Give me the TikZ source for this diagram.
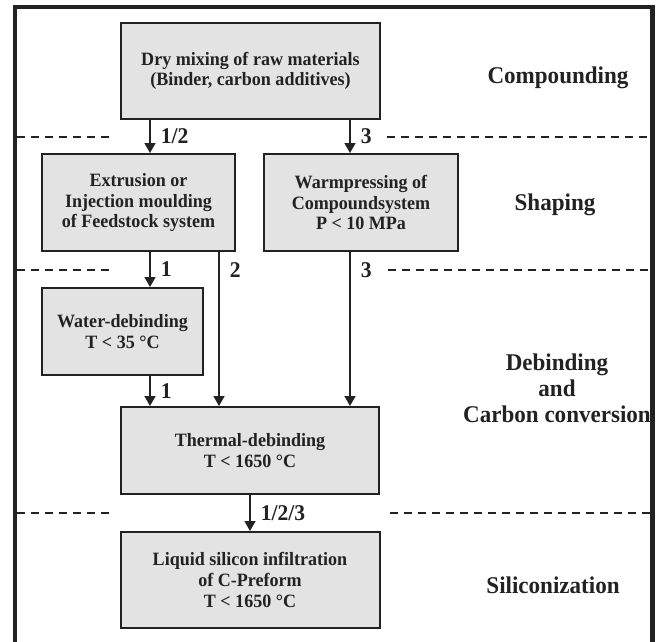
\documentclass[tikz,border=0pt]{standalone}
\usepackage{fontspec}
\setmainfont{Liberation Serif}[FakeStretch=0.96]
\usetikzlibrary{positioning,arrows.meta}
\definecolor{boxgray}{HTML}{E3E3E3}
\definecolor{inkgray}{HTML}{222222}
\tikzstyle{stage} = [draw=inkgray,line width=2pt,fill=boxgray,text=inkgray,align=center,inner sep=0pt,font=\fontsize{18.8}{20.7}\selectfont\bfseries]
\tikzstyle{arrow} = [line width=1.6pt,draw=inkgray,-{Triangle[width=11pt,length=10pt]}]
\tikzstyle{lab} = [right=8pt,inner sep=2pt,text=inkgray,font=\fontsize{22.5}{22.5}\selectfont\bfseries]
\tikzstyle{zonelabel} = [align=center,text=inkgray,font=\fontsize{24}{26}\selectfont\bfseries]
\tikzstyle{zoneline} = [line width=1.3pt,draw=inkgray,dash pattern=on 8pt off 6pt]

\begin{document}
\begin{tikzpicture}[x=1pt,y=-1pt]
  \useasboundingbox (0,0) rectangle (658,641);
  % outer frame, open at the bottom
  \draw[line width=4.5pt,draw=inkgray] (15,650) -- (15,7) -- (652.5,7) -- (652.5,650);

  % process steps
  \node[stage,minimum width=259pt,minimum height=96pt] (mix) at (250.5,71) {Dry mixing of raw materials\\(Binder, carbon additives)};
  \node[stage,minimum width=193pt,minimum height=97pt] (extr) at (138.5,202.5) {Extrusion or\\Injection moulding\\of Feedstock system};
  \node[stage,minimum width=194pt,minimum height=97pt,right=27pt of extr] (warm) {Warmpressing of\\Compoundsystem\\P < 10 MPa};
  \node[stage,minimum width=161pt,minimum height=87pt,below=35pt of extr.south west,anchor=north west] (water) {Water-debinding\\T < 35 °C};
  \node[stage,minimum width=258pt,minimum height=87pt] (therm) at (250,450.5) {Thermal-debinding\\T < 1650 °C};
  \node[stage,minimum width=259pt,minimum height=96pt,below=36pt of therm] (lsi) {Liquid silicon infiltration\\of C-Preform\\T < 1650 °C};

  % zones
  \node[zonelabel] (compound) at (558,78) {Compounding};
  \node[zonelabel] (shaping) at (555,205) {Shaping};
  \node[zonelabel] (debind) at (557,388) {Debinding\\and\\Carbon conversion};
  \node[zonelabel] (silic) at (553,585) {Siliconization};
  \foreach \y/\xr in {137/387,270/388,513/390}{
    \draw[zoneline] (17,\y) -- (113,\y);
    \draw[zoneline] (\xr,\y) -- (650,\y);
  }

  % routes 1, 2 and 3
  \coordinate (colA) at (150,0);
  \coordinate (colB) at (219,0);
  \coordinate (colC) at (350,0);
  \draw[arrow] (colA |- mix.south) -- node[lab]{1/2} (colA |- extr.north);
  \draw[arrow] (colC |- mix.south) -- node[lab]{3} (colC |- warm.north);
  \draw[arrow] (colA |- extr.south) -- node[lab]{1} (colA |- water.north);
  \draw[arrow] (colB |- extr.south) -- node[lab,pos=0.115]{2} (colB |- therm.north);
  \draw[arrow] (colC |- warm.south) -- node[lab,pos=0.115]{3} (colC |- therm.north);
  \draw[arrow] (colA |- water.south) -- node[lab]{1} (colA |- therm.north);
  \draw[arrow] (therm) -- node[lab]{1/2/3} (lsi);
\end{tikzpicture}
\end{document}
